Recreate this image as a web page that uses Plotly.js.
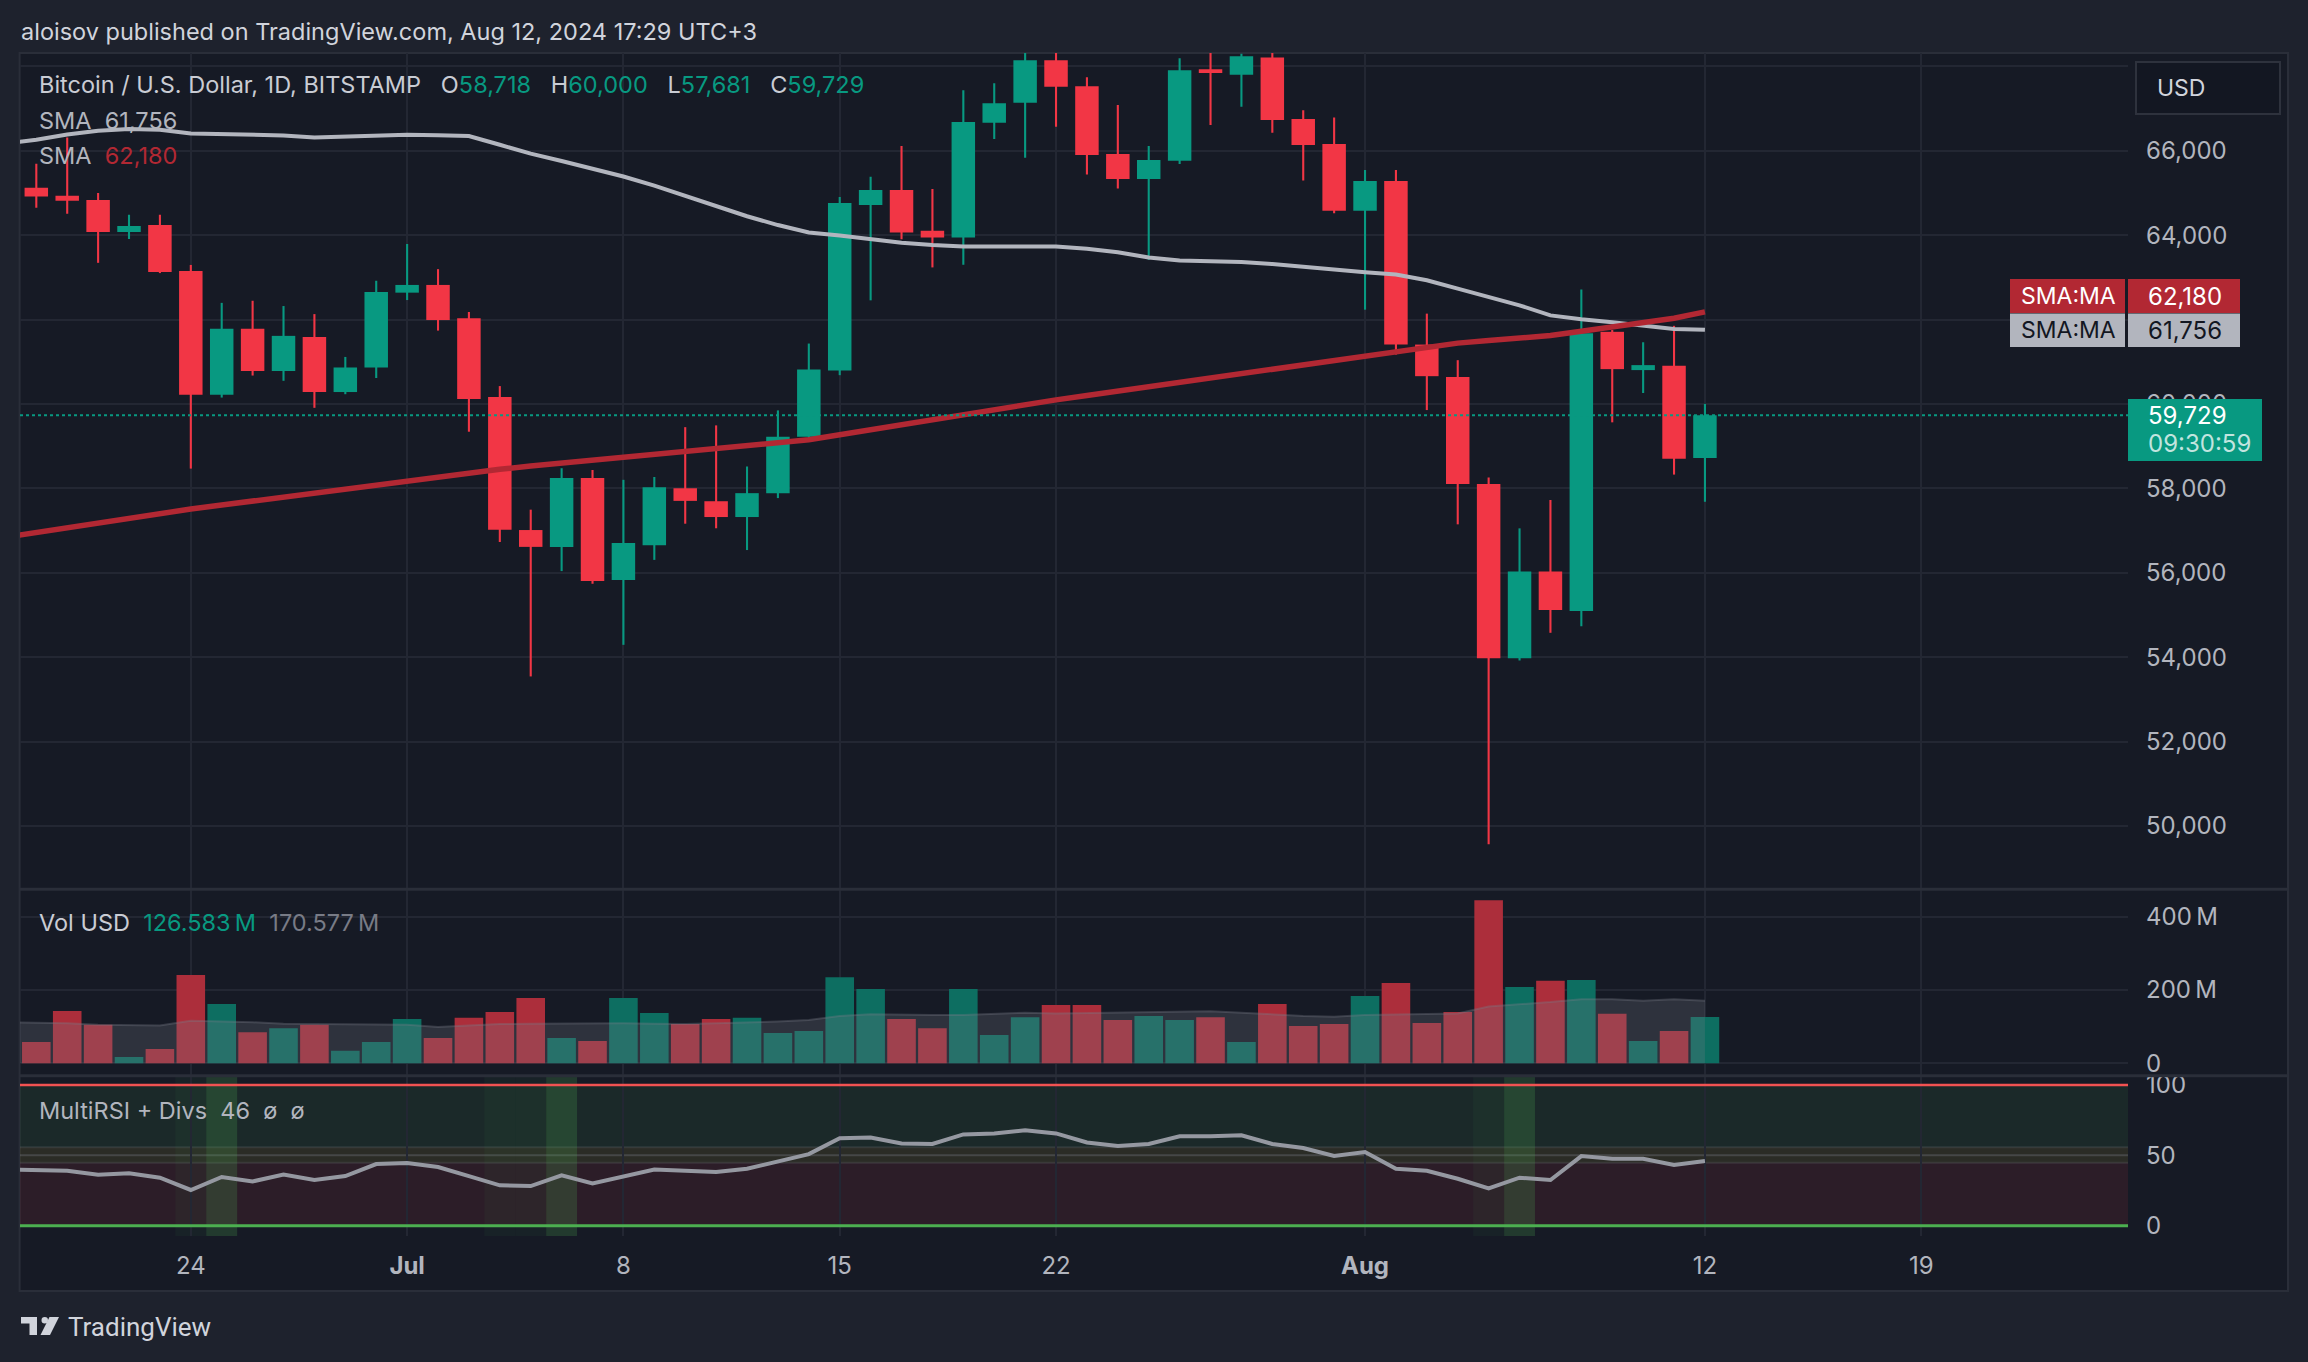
<!DOCTYPE html>
<html>
<head>
<meta charset="utf-8">
<script src="https://cdn.plot.ly/plotly-3.0.1.min.js"></script>
<style>
html,body{margin:0;padding:0;background:#1e222d;overflow:hidden;}
#chart{width:2308px;height:1362px;}
</style>
</head>
<body>
<div id="chart"></div>
<script>
// ---------------- DATA ----------------
const dates = [
 '2024-06-19','2024-06-20','2024-06-21','2024-06-22','2024-06-23','2024-06-24','2024-06-25','2024-06-26','2024-06-27','2024-06-28',
 '2024-06-29','2024-06-30','2024-07-01','2024-07-02','2024-07-03','2024-07-04','2024-07-05','2024-07-06','2024-07-07','2024-07-08',
 '2024-07-09','2024-07-10','2024-07-11','2024-07-12','2024-07-13','2024-07-14','2024-07-15','2024-07-16','2024-07-17','2024-07-18',
 '2024-07-19','2024-07-20','2024-07-21','2024-07-22','2024-07-23','2024-07-24','2024-07-25','2024-07-26','2024-07-27','2024-07-28',
 '2024-07-29','2024-07-30','2024-07-31','2024-08-01','2024-08-02','2024-08-03','2024-08-04','2024-08-05','2024-08-06','2024-08-07',
 '2024-08-08','2024-08-09','2024-08-10','2024-08-11','2024-08-12'];
// indicator series start one day earlier (off the left edge)
const indicatorDates = ['2024-06-18'].concat(dates);

const open = [65123,64932,64832,64075,64241,63151,60214,61779,60780,61587,
 60281,60863,62636,62819,62028,60164,57011,56612,58243,55830,
 56653,58001,57694,57319,57885,59223,60791,64716,65070,64101,
 63943,66662,67135,68143,67529,65921,65330,65764,67931,67797,
 68206,66749,66158,64574,65283,61406,60636,58101,53974,56026,
 55094,61708,60801,60907,58718];
const high = [65689,66314,64998,64483,64483,63293,62394,62444,62319,62128,
 61113,62918,63792,63193,62178,60422,57494,58476,58434,58201,
 58268,59449,59491,58517,59846,61430,64905,65385,66110,65094,
 67434,67600,68480,68470,67742,67080,66110,68191,69400,68300,
 70000,66961,66788,65543,65543,62139,61036,58254,57051,57723,
 62711,61750,61461,61850,60000];
const low = [64649,64507,63343,63908,63100,58467,60150,60672,60547,59907,
 60230,60614,62461,61737,59341,56728,53542,56038,55738,54291,
 56304,57161,57053,56537,57768,59150,60681,62454,63904,63234,
 63297,66276,65835,66567,65433,65102,63415,65685,66607,67040,
 66425,65291,64519,62233,61170,59854,57146,49565,53920,54576,
 54729,59563,60258,58325,57681];
const close = [64915,64815,64075,64216,63126,60214,61779,60780,61612,60281,
 60863,62652,62819,61987,60114,57019,56612,58243,55805,56703,
 58027,57702,57319,57885,59223,60815,64763,65070,64062,63943,
 66678,67127,68143,67513,65898,65330,65779,67907,67844,68238,
 66725,66134,64574,65283,61406,60657,58101,53974,56026,55118,
 61673,60824,60919,58702,59729];

// volume in millions USD
const volume = [58,143,105,17,39,241,162,85,96,105,
 34,58,121,69,124,140,178,69,61,178,
 137,107,121,124,83,88,235,203,121,96,
 203,77,126,159,159,118,129,118,126,58,
 162,102,107,184,219,110,140,445,208,225,
 227,135,61,88,126.583];
const volumeMA = [112,
 111,109,105,103,103,116,115,112,108,107,
 107,107,105,99,104,107,108,109,109,109,
 108,107,109,111,114,118,129,134,132,132,
 132,134,138,136,137,138,139,140,142,138,
 133,129,127,132,133,135,136,155,160,167,
 175,175,171,175,170.577];

const smaGray = [66175,
 66258,66384,66471,66513,66496,66405,66391,66373,66363,66311,
 66332,66366,66380,66366,66349,66140,65930,65756,65581,65389,
 65173,64935,64674,64447,64238,64063,63993,63906,63819,63766,
 63731,63731,63731,63731,63679,63592,63470,63400,63383,63362,
 63313,63243,63191,63121,63068,62929,62733,62545,62336,62098,
 62004,61934,61864,61777,61756];
const smaRed = [56840,
 56954,57065,57176,57287,57398,57509,57603,57697,57790,57885,
 57986,58087,58188,58276,58364,58452,58527,58595,58664,58730,
 58793,58855,58918,58985,59057,59150,59270,59390,59510,59630,
 59760,59882,59990,60095,60200,60305,60410,60515,60620,60730,
 60840,60940,61040,61140,61245,61350,61440,61500,61560,61620,
 61720,61820,61920,62030,62180];

const rsi = [40.0,
 39.6,39.1,36.3,37.2,34.1,25.4,34.6,31.5,36.3,32.5,
 35.3,43.8,44.5,41.7,35.3,28.7,28.2,35.8,30.1,34.8,
 40.0,39.1,38.2,40.5,45.5,50.9,62.1,62.6,58.5,58.1,
 64.9,65.6,67.8,65.6,59.2,56.6,58.1,63.5,63.5,64.2,
 58.1,55.2,49.5,52.4,40.5,39.1,33.4,26.5,34.1,32.5,
 49.5,47.6,47.6,43.1,46.0];
const divWeak = ['2024-06-24','2024-07-04','2024-07-05','2024-08-05'];
const divStrong = ['2024-06-25','2024-07-06','2024-08-06'];

const xTickVals = ['2024-06-24','2024-07-01','2024-07-08','2024-07-15','2024-07-22','2024-08-01','2024-08-12','2024-08-19'];
const xTickText = ['24','<b>Jul</b>','8','15','22','<b>Aug</b>','12','19'];
const priceTicks = [48000,50000,52000,54000,56000,58000,60000,62000,64000,66000,68000];
// 62,000 and 68,000 sit under the SMA / USD labels in the reference
const priceTickText = ['','50,000','52,000','54,000','56,000','58,000','60,000','','64,000','66,000',''];
const volTicks = [0,200e6,400e6];
const volTickText = ['0','200\u2009M','400\u2009M'];
const rsiTicks = [0,50,100];
const rsiTickText = ['0','50','100'];

// ---------------- STYLE ----------------
const GREEN = '#089981', RED = '#f23645';
const DAY = 86400000;
const W = 2308, H = 1362;
const L = 20, R = 2128, T = 53, B = 1236;
const px2x = p => (p - L) / (R - L);
const px2y = p => (B - p) / (B - T);
const P = (x, y) => px2x(x) + ',' + px2y(y);
const shiftDate = (d, h) => new Date(Date.parse(d + 'T00:00:00Z') + h * 3600e3).toISOString().slice(0, 19).replace('T', ' ');
const fmt = v => Math.round(v).toLocaleString('en-US');

const up = open.map((o, i) => close[i] >= o);
const candleColors = up.map(u => u ? GREEN : RED);
const volColors = up.map(u => u ? '#0d6e61' : '#ac2e3b');

const traces = [];
// wicks
traces.push({type:'bar', x:dates, base:low, y:high.map((h,i)=>h-low[i]), width:DAY*0.068,
  marker:{color:candleColors, line:{width:0}}, xaxis:'x', yaxis:'y', hoverinfo:'skip'});
// bodies
traces.push({type:'bar', x:dates, base:open.map((o,i)=>Math.min(o,close[i])),
  y:open.map((o,i)=>Math.max(Math.abs(close[i]-o), 25)), width:DAY*0.76,
  marker:{color:candleColors, line:{width:0}}, xaxis:'x', yaxis:'y', hoverinfo:'skip'});
// SMA lines
traces.push({type:'scatter', mode:'lines', x:indicatorDates, y:smaGray, line:{color:'#b2b5be', width:4}, xaxis:'x', yaxis:'y', hoverinfo:'skip'});
traces.push({type:'scatter', mode:'lines', x:indicatorDates, y:smaRed, line:{color:'#b22833', width:5.5}, xaxis:'x', yaxis:'y', hoverinfo:'skip'});
// volume
traces.push({type:'bar', x:dates, y:volume.map(v=>v*1e6), width:DAY*0.925,
  marker:{color:volColors, line:{width:0}}, xaxis:'x', yaxis:'y2', hoverinfo:'skip'});
traces.push({type:'scatter', mode:'lines', x:indicatorDates, y:volumeMA.map(v=>v*1e6), fill:'tozeroy',
  fillcolor:'rgba(120,123,134,0.25)', line:{color:'rgba(120,123,134,0.35)', width:2}, xaxis:'x', yaxis:'y2', hoverinfo:'skip'});
// RSI
traces.push({type:'scatter', mode:'lines', x:indicatorDates, y:rsi, line:{color:'#9598a1', width:4}, xaxis:'x', yaxis:'y3', hoverinfo:'skip'});

// ---------------- SHAPES ----------------
const shapes = [];
// chart frame background
shapes.push({type:'rect', xref:'paper', yref:'paper', x0:px2x(19.6), x1:px2x(2288), y0:px2y(1291), y1:px2y(53),
  fillcolor:'#161a25', line:{color:'#2a2e39', width:2}, layer:'below'});
// RSI zones
shapes.push({type:'rect', xref:'paper', yref:'y3', x0:0, x1:1, y0:55.7, y1:100, fillcolor:'rgba(76,175,80,0.10)', line:{width:0}, layer:'below'});
shapes.push({type:'rect', xref:'paper', yref:'y3', x0:0, x1:1, y0:44.8, y1:55.7, fillcolor:'rgba(255,235,59,0.09)', line:{width:0}, layer:'below'});
shapes.push({type:'rect', xref:'paper', yref:'y3', x0:0, x1:1, y0:0, y1:44.8, fillcolor:'rgba(242,54,69,0.10)', line:{width:0}, layer:'below'});
[44.8, 55.7].forEach(v => shapes.push({type:'line', xref:'paper', yref:'y3', x0:0, x1:1, y0:v, y1:v, line:{color:'rgba(120,123,134,0.22)', width:2}, layer:'below'}));
shapes.push({type:'line', xref:'paper', yref:'y3', x0:0, x1:1, y0:50, y1:50, line:{color:'rgba(120,123,134,0.35)', width:2}, layer:'below'});
divWeak.forEach(d => shapes.push({type:'rect', xref:'x', yref:'y3 domain', x0:shiftDate(d,-12), x1:shiftDate(d,12), y0:0, y1:1,
  fillcolor:'rgba(76,175,80,0.06)', line:{width:0}, layer:'below'}));
divStrong.forEach(d => shapes.push({type:'rect', xref:'x', yref:'y3 domain', x0:shiftDate(d,-12), x1:shiftDate(d,12), y0:0, y1:1,
  fillcolor:'rgba(76,175,80,0.22)', line:{width:0}, layer:'below'}));
shapes.push({type:'line', xref:'paper', yref:'y3', x0:0, x1:1, y0:100, y1:100, line:{color:'#f25252', width:2.5}, layer:'above'});
shapes.push({type:'line', xref:'paper', yref:'y3', x0:0, x1:1, y0:0, y1:0, line:{color:'#4caf50', width:3}, layer:'above'});
// pane separators
[889.3, 1075.7].forEach(y => shapes.push({type:'line', xref:'paper', yref:'paper', x0:px2x(19.6), x1:px2x(2288), y0:px2y(y), y1:px2y(y),
  line:{color:'#2a2e39', width:3}, layer:'above'}));
// last price dotted line
const lastClose = close[close.length-1];
shapes.push({type:'line', xref:'paper', yref:'y', x0:0, x1:1, y0:lastClose, y1:lastClose, line:{color:GREEN, width:2, dash:'dot'}, layer:'above'});
// USD box
shapes.push({type:'rect', xref:'paper', yref:'paper', x0:px2x(2136), x1:px2x(2280), y0:px2y(114), y1:px2y(62),
  fillcolor:'#131722', line:{color:'#2e323d', width:2}, layer:'above'});
// SMA labels
shapes.push({type:'rect', xref:'paper', yref:'paper', x0:px2x(2010), x1:px2x(2125), y0:px2y(313), y1:px2y(279), fillcolor:'#b22833', line:{width:0}, layer:'above'});
shapes.push({type:'rect', xref:'paper', yref:'paper', x0:px2x(2128), x1:px2x(2240), y0:px2y(313), y1:px2y(279), fillcolor:'#b22833', line:{width:0}, layer:'above'});
shapes.push({type:'rect', xref:'paper', yref:'paper', x0:px2x(2010), x1:px2x(2125), y0:px2y(347), y1:px2y(313.5), fillcolor:'#b2b5be', line:{width:0}, layer:'above'});
shapes.push({type:'rect', xref:'paper', yref:'paper', x0:px2x(2128), x1:px2x(2240), y0:px2y(347), y1:px2y(313.5), fillcolor:'#b2b5be', line:{width:0}, layer:'above'});
// price label box
shapes.push({type:'rect', xref:'paper', yref:'paper', x0:px2x(2128), x1:px2x(2262), y0:px2y(461), y1:px2y(399), fillcolor:GREEN, line:{width:0}, layer:'above'});
// TradingView logo
shapes.push({type:'path', xref:'paper', yref:'paper', path:'M'+P(21,1317)+'L'+P(37,1317)+'L'+P(37,1335)+'L'+P(29.5,1335)+'L'+P(29.5,1323.5)+'L'+P(21,1323.5)+'Z',
  fillcolor:'#d1d4dc', line:{width:0}, layer:'above'});
shapes.push({type:'circle', xref:'paper', yref:'paper', x0:px2x(41.5), x1:px2x(48), y0:px2y(1323.5), y1:px2y(1317), fillcolor:'#d1d4dc', line:{width:0}, layer:'above'});
shapes.push({type:'path', xref:'paper', yref:'paper', path:'M'+P(49.5,1317)+'L'+P(59,1317)+'L'+P(50,1335)+'L'+P(40.5,1335)+'Z',
  fillcolor:'#d1d4dc', line:{width:0}, layer:'above'});

// ---------------- ANNOTATIONS ----------------
const HF = 'Inter, Roboto, sans-serif';
const NF = 'Inter, Roboto, sans-serif';
const ann = (x, y, text, size, color, family, anchor) => ({xref:'paper', yref:'paper', x:px2x(x), y:px2y(y), text:text, showarrow:false,
  xanchor:anchor||'left', yanchor:'middle', font:{family:family||HF, size:size, color:color}});
const g = t => '<span style="color:' + GREEN + '">' + t + '</span>';
const last = open.length - 1;
const S3 = '\u00a0\u00a0\u00a0';
const S2 = '\u00a0\u00a0';
const annotations = [
  ann(19, 31, 'aloisov published on TradingView.com, Aug 12, 2024 17:29 UTC+3', 23.5, '#d1d4dc'),
  ann(37, 85, 'Bitcoin / U.S. Dollar, 1D, BITSTAMP' + S3 + 'O' + g(fmt(open[last])) + S3 + 'H' + g(fmt(high[last])) + S3 + 'L' + g(fmt(low[last])) + S3 + 'C' + g(fmt(close[last])), 23.5, '#c9ccd4'),
  ann(37, 120, 'SMA' + S2 + fmt(smaGray[smaGray.length-1]), 23.5, '#b2b5be'),
  ann(37, 155, 'SMA' + S2 + '<span style="color:#b22833">' + fmt(smaRed[smaRed.length-1]) + '</span>', 23.5, '#b2b5be'),
  ann(37, 923, 'Vol USD' + S2 + '<span style="color:' + GREEN + '">' + volume[last].toFixed(3) + '\u2009M</span>' + S2 + '<span style="color:#787b86">' + volumeMA[volumeMA.length-1].toFixed(3) + '\u2009M</span>', 23.5, '#c9ccd4'),
  ann(37, 1110, 'MultiRSI + Divs' + S2 + Math.round(rsi[rsi.length-1]) + S2 + '\u00f8' + S2 + '\u00f8', 23.5, '#b2b5be'),
  ann(66, 1327, 'TradingView', 26, '#d1d4dc', 'Roboto, sans-serif'),
  ann(2155, 88, 'USD', 23, '#d1d4dc', NF),
  ann(2068, 296, 'SMA:MA', 23, '#ffffff', NF, 'center'),
  ann(2146, 296, fmt(smaRed[smaRed.length-1]), 24, '#ffffff', NF),
  ann(2068, 330, 'SMA:MA', 23, '#131722', NF, 'center'),
  ann(2146, 330, fmt(smaGray[smaGray.length-1]), 24, '#131722', NF),
  ann(2146, 415, fmt(lastClose), 24, '#ffffff', NF),
  ann(2146, 443, '09:30:59', 24, 'rgba(255,255,255,0.75)', NF)
];

// ---------------- LAYOUT ----------------
const tickFont = {family:NF, size:24, color:'#b2b5be'};
const GRID = '#232733';
const layout = {
  width:W, height:H,
  margin:{l:L, r:W-R, t:T, b:H-B, pad:0},
  paper_bgcolor:'#1e222d', plot_bgcolor:'rgba(0,0,0,0)',
  showlegend:false, hovermode:false, barmode:'overlay',
  xaxis:{type:'date', range:['2024-06-18 11:20','2024-08-25 16:35'], anchor:'y3',
    tickmode:'array', tickvals:xTickVals, ticktext:xTickText, tickfont:tickFont,
    showgrid:true, gridcolor:GRID, gridwidth:2, zeroline:false, showline:false, ticks:'', ticklabelstandoff:13, fixedrange:true},
  yaxis:{domain:[px2y(889.3), 1], range:[48498, 68315], side:'right', anchor:'x',
    tickmode:'array', tickvals:priceTicks, ticktext:priceTickText, tickfont:tickFont,
    showgrid:true, gridcolor:GRID, gridwidth:2, zeroline:false, showline:false, ticks:'', ticklabelstandoff:17},
  yaxis2:{domain:[px2y(1075.7), px2y(889.3)], range:[-33.8e6, 474.8e6], side:'right', anchor:'x',
    tickmode:'array', tickvals:volTicks, ticktext:volTickText, tickfont:tickFont,
    showgrid:true, gridcolor:GRID, gridwidth:2, zeroline:false, showline:false, ticks:'', ticklabelstandoff:17},
  yaxis3:{domain:[0, px2y(1075.7)], range:[-7.3, 106.6], side:'right', anchor:'x',
    tickmode:'array', tickvals:rsiTicks, ticktext:rsiTickText, tickfont:tickFont,
    showgrid:false, zeroline:false, showline:false, ticks:'', ticklabelstandoff:17},
  shapes:shapes,
  annotations:annotations
};

Plotly.newPlot('chart', traces, layout, {staticPlot:true, displayModeBar:false});
</script>
</body>
</html>
